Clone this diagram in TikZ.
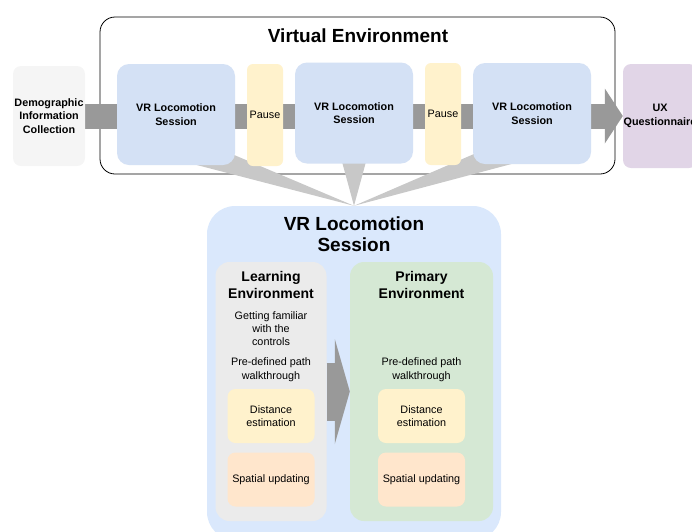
\documentclass[tikz,border=0pt]{standalone}
\usepackage{fontspec}
\setmainfont{Liberation Sans}
\usepackage{xcolor}
\usetikzlibrary{arrows.meta,positioning,backgrounds}
\definecolor{sessblue}{HTML}{D4E1F5}
\definecolor{bigblue}{HTML}{DAE8FC}
\definecolor{pauseyellow}{HTML}{FFF2CC}
\definecolor{demogray}{HTML}{F5F5F5}
\definecolor{uxpurple}{HTML}{E1D5E7}
\definecolor{learngray}{HTML}{EBEBEB}
\definecolor{primgreen}{HTML}{D5E8D4}
\definecolor{taskorange}{HTML}{FFE6CC}
\definecolor{flowgray}{HTML}{999999}
\definecolor{funnelgray}{HTML}{C8C8C8}

\begin{document}
\begin{tikzpicture}[x=1pt, y=-1pt,
    box/.style={rectangle, rounded corners=8pt, inner sep=0pt, align=center,
                font=\fontsize{10.8}{13.5}\selectfont},
    boldbox/.style={box, font=\bfseries\fontsize{10.8}{13.5}\selectfont},
    session/.style={boldbox, fill=sessblue, rounded corners=12pt,
                    minimum width=118pt, minimum height=101pt},
    pause/.style={box, fill=pauseyellow, rounded corners=6pt,
                  minimum width=36pt, minimum height=102pt},
    envbox/.style={box, rounded corners=14pt, minimum width=#1, minimum height=259pt},
    task/.style={box, minimum width=87pt, minimum height=54pt},
    heading/.style={align=center, inner sep=0pt, font=\bfseries\fontsize{14}{17}\selectfont},
    note/.style={align=center, inner sep=0pt, font=\fontsize{10.8}{13.3}\selectfont},
    flow/.style={draw=flowgray, line width=25pt,
                 -{Triangle[length=18pt 0, width=55pt 0, line width=0pt 0]}},
    bigflow/.style={draw=flowgray, line width=58pt,
                 -{Triangle[length=15pt 0, width=105pt 0, line width=0pt 0]}},
    funnel/.style={fill=funnelgray},
]
    \useasboundingbox (0,0) rectangle (692,531);

    % Study procedure (top row)
    \node[boldbox, fill=demogray, minimum width=72pt, minimum height=100pt] (demo) at (49,116)
        {Demographic\\Information\\Collection};
    \node[session] (s1) at (176,114.5) {VR Locomotion\\Session};
    \node[pause]   (p1) at (265,115)   {Pause};
    \node[session] (s2) at (354,113)   {VR Locomotion\\Session};
    \node[pause]   (p2) at (443,114)   {Pause};
    \node[session] (s3) at (532,113.5) {VR Locomotion\\Session};
    \node[boldbox, fill=uxpurple, minimum width=74pt, minimum height=104pt] (ux) at (660,116)
        {UX\\Questionnaire};
    \node[font=\bfseries\fontsize{19}{22}\selectfont, inner sep=0pt] (vetitle) at (358,36)
        {Virtual Environment};

    % One session in detail
    \node[box, fill=bigblue, rounded corners=28pt, minimum width=294pt, minimum height=334pt]
        (sess) at (354,373) {};
    \node[align=center, inner sep=0pt, font=\bfseries\fontsize{19}{21}\selectfont]
        (sesstitle) at (354,234.4) {VR Locomotion\\Session};

    \node[envbox=111pt, fill=learngray] (learn) at (271,391.5) {};
    \node[heading] (learntitle) at (271,284.5) {Learning\\Environment};
    \node[note] (familiar) at (271,328.7) {Getting familiar\\with the\\controls};
    \node[note] (path1) at (271,369.7) {Pre-defined path\\walkthrough};
    \node[task, fill=pauseyellow] (dist1) at (271,416)   {Distance\\estimation};
    \node[task, fill=taskorange]  (spat1) at (271,479.5) {Spatial updating};

    \node[envbox=143pt, fill=primgreen] (prim) at (421.5,391.5) {};
    \node[heading] (primtitle) at (421.5,284.5) {Primary\\Environment};
    \node[note] (path2) at (421.5,369.7) {Pre-defined path\\walkthrough};
    \node[task, fill=pauseyellow] (dist2) at (421.5,416)   {Distance\\estimation};
    \node[task, fill=taskorange]  (spat2) at (421.5,479.5) {Spatial updating};

    % Learning -> primary
    \draw[bigflow] (learn) -- (prim);

    \begin{scope}[on background layer]
        \node[draw=black, line width=0.8pt, fill=white, rounded corners=15pt,
              minimum width=515pt, minimum height=157pt] (venv) at (357.5,95.5) {};
        % Main flow behind the boxes
        \draw[flow] (demo) -- (ux);
        % Each session expands into the box below
        \fill[funnel] ([xshift=10pt, yshift=3pt]s1.south)
            -- ([xshift=-10pt, yshift=14pt]s1.south east) -- (sess.north) -- cycle;
        \fill[funnel] ([xshift=-12pt, yshift=2pt]s2.south)
            -- ([xshift=12pt, yshift=2pt]s2.south) -- (sess.north) -- cycle;
        \fill[funnel] ([xshift=10pt, yshift=14pt]s3.south west)
            -- ([xshift=-10pt, yshift=3pt]s3.south) -- (sess.north) -- cycle;
    \end{scope}
\end{tikzpicture}
\end{document}
